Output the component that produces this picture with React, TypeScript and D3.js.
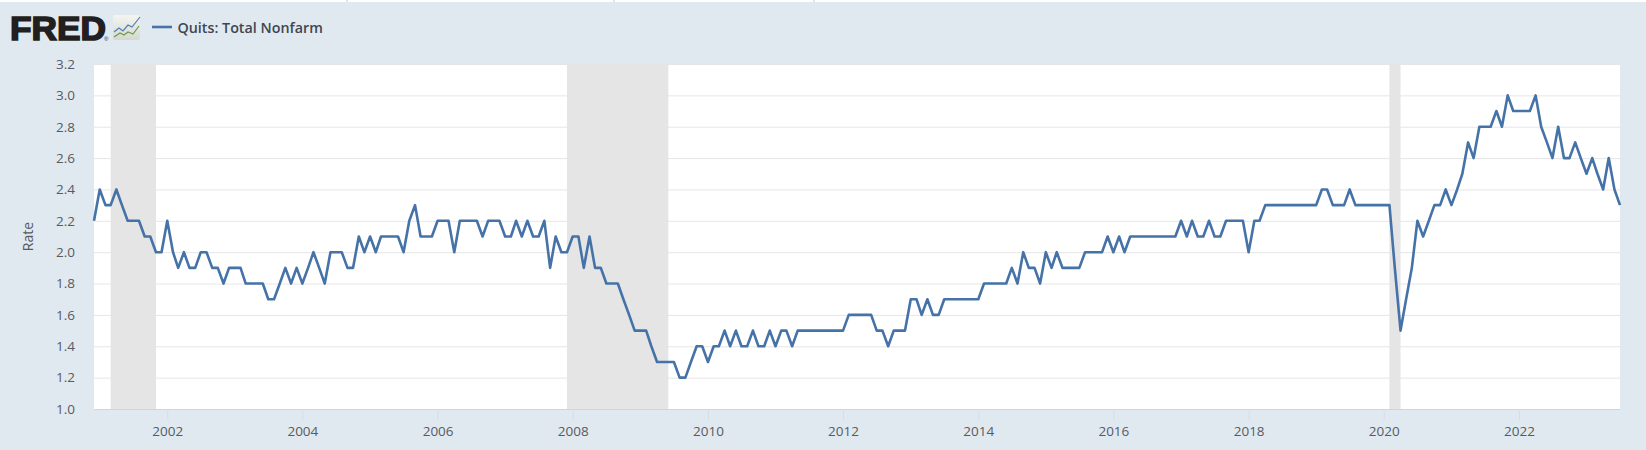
import React, { useEffect, useRef } from 'react';
import * as d3 from 'd3';

const WIDTH = 1646;
const HEIGHT = 450;

const seriesName = 'Quits: Total Nonfarm';
const yAxisTitle = 'Rate';
const startMonth = new Date(Date.UTC(2000, 11, 1));

// monthly quits rate, Dec 2000 onward
const quits2000 = [2.2];
const quits2001 = [2.4, 2.3, 2.3, 2.4, 2.3, 2.2, 2.2, 2.2, 2.1, 2.1, 2.0, 2.0];
const quits2002 = [2.2, 2.0, 1.9, 2.0, 1.9, 1.9, 2.0, 2.0, 1.9, 1.9, 1.8, 1.9];
const quits2003 = [1.9, 1.9, 1.8, 1.8, 1.8, 1.8, 1.7, 1.7, 1.8, 1.9, 1.8, 1.9];
const quits2004 = [1.8, 1.9, 2.0, 1.9, 1.8, 2.0, 2.0, 2.0, 1.9, 1.9, 2.1, 2.0];
const quits2005 = [2.1, 2.0, 2.1, 2.1, 2.1, 2.1, 2.0, 2.2, 2.3, 2.1, 2.1, 2.1];
const quits2006 = [2.2, 2.2, 2.2, 2.0, 2.2, 2.2, 2.2, 2.2, 2.1, 2.2, 2.2, 2.2];
const quits2007 = [2.1, 2.1, 2.2, 2.1, 2.2, 2.1, 2.1, 2.2, 1.9, 2.1, 2.0, 2.0];
const quits2008 = [2.1, 2.1, 1.9, 2.1, 1.9, 1.9, 1.8, 1.8, 1.8, 1.7, 1.6, 1.5];
const quits2009 = [1.5, 1.5, 1.4, 1.3, 1.3, 1.3, 1.3, 1.2, 1.2, 1.3, 1.4, 1.4];
const quits2010 = [1.3, 1.4, 1.4, 1.5, 1.4, 1.5, 1.4, 1.4, 1.5, 1.4, 1.4, 1.5];
const quits2011 = [1.4, 1.5, 1.5, 1.4, 1.5, 1.5, 1.5, 1.5, 1.5, 1.5, 1.5, 1.5];
const quits2012 = [1.5, 1.6, 1.6, 1.6, 1.6, 1.6, 1.5, 1.5, 1.4, 1.5, 1.5, 1.5];
const quits2013 = [1.7, 1.7, 1.6, 1.7, 1.6, 1.6, 1.7, 1.7, 1.7, 1.7, 1.7, 1.7];
const quits2014 = [1.7, 1.8, 1.8, 1.8, 1.8, 1.8, 1.9, 1.8, 2.0, 1.9, 1.9, 1.8];
const quits2015 = [2.0, 1.9, 2.0, 1.9, 1.9, 1.9, 1.9, 2.0, 2.0, 2.0, 2.0, 2.1];
const quits2016 = [2.0, 2.1, 2.0, 2.1, 2.1, 2.1, 2.1, 2.1, 2.1, 2.1, 2.1, 2.1];
const quits2017 = [2.2, 2.1, 2.2, 2.1, 2.1, 2.2, 2.1, 2.1, 2.2, 2.2, 2.2, 2.2];
const quits2018 = [2.0, 2.2, 2.2, 2.3, 2.3, 2.3, 2.3, 2.3, 2.3, 2.3, 2.3, 2.3];
const quits2019 = [2.3, 2.4, 2.4, 2.3, 2.3, 2.3, 2.4, 2.3, 2.3, 2.3, 2.3, 2.3];
const quits2020 = [2.3, 2.3, 1.9, 1.5, 1.7, 1.9, 2.2, 2.1, 2.2, 2.3, 2.3, 2.4];
const quits2021 = [2.3, 2.4, 2.5, 2.7, 2.6, 2.8, 2.8, 2.8, 2.9, 2.8, 3.0, 2.9];
const quits2022 = [2.9, 2.9, 2.9, 3.0, 2.8, 2.7, 2.6, 2.8, 2.6, 2.6, 2.7, 2.6];
const quits2023 = [2.5, 2.6, 2.5, 2.4, 2.6, 2.4, 2.3];

const quitsRate = [
  ...quits2000, ...quits2001, ...quits2002, ...quits2003, ...quits2004, ...quits2005,
  ...quits2006, ...quits2007, ...quits2008, ...quits2009, ...quits2010, ...quits2011,
  ...quits2012, ...quits2013, ...quits2014, ...quits2015, ...quits2016, ...quits2017,
  ...quits2018, ...quits2019, ...quits2020, ...quits2021, ...quits2022, ...quits2023,
];

const recessions: [Date, Date][] = [
  [new Date(Date.UTC(2001, 2, 1)), new Date(Date.UTC(2001, 10, 1))],
  [new Date(Date.UTC(2007, 11, 1)), new Date(Date.UTC(2009, 5, 1))],
  [new Date(Date.UTC(2020, 1, 1)), new Date(Date.UTC(2020, 3, 1))],
];

const yTicks = [1.0, 1.2, 1.4, 1.6, 1.8, 2.0, 2.2, 2.4, 2.6, 2.8, 3.0, 3.2];
const xTickYears = [2002, 2004, 2006, 2008, 2010, 2012, 2014, 2016, 2018, 2020, 2022];

const margin = { top: 64, right: 26, bottom: 41, left: 94 };
const font = "'Open Sans', sans-serif";
const textColor = '#565b62';

const App: React.FC = () => {
  const svgRef = useRef<SVGSVGElement>(null);

  useEffect(() => {
    if (!svgRef.current) return;
    const svg = d3.select(svgRef.current);
    svg.selectAll('*').remove();

    const months = quitsRate.map((_, i) => d3.utcMonth.offset(startMonth, i));
    const x = d3.scaleUtc()
      .domain([months[0], months[months.length - 1]])
      .range([margin.left, WIDTH - margin.right]);
    const y = d3.scaleLinear()
      .domain([1.0, 3.2])
      .range([HEIGHT - margin.bottom, margin.top]);

    svg.append('rect').attr('width', WIDTH).attr('height', HEIGHT).attr('fill', '#e1e9f0');
    svg.append('rect').attr('width', WIDTH).attr('height', 2).attr('fill', '#ffffff');

    // bits of the page header that show above the chart
    svg.append('g')
      .selectAll('line')
      .data([347, 614, 814])
      .join('line')
      .attr('x1', d => d).attr('x2', d => d)
      .attr('y1', 0).attr('y2', 2)
      .attr('stroke', '#c9c9c9');

    // plot background
    svg.append('rect')
      .attr('x', margin.left)
      .attr('y', margin.top)
      .attr('width', WIDTH - margin.left - margin.right)
      .attr('height', HEIGHT - margin.top - margin.bottom)
      .attr('fill', '#ffffff');

    // y axis with grid
    const yAxis = svg.append('g')
      .attr('transform', `translate(${margin.left},0)`)
      .call(d3.axisLeft(y)
        .tickValues(yTicks)
        .tickFormat(d3.format('.1f'))
        .tickSize(-(WIDTH - margin.left - margin.right))
        .tickPadding(19));
    yAxis.select('.domain').remove();
    yAxis.selectAll('line').attr('stroke', '#e6e6e6').attr('stroke-width', 1);
    yAxis.selectAll('text')
      .attr('fill', textColor)
      .style('font-family', font)
      .style('font-size', '13.5px');

    // recession bands sit over the grid
    svg.append('g')
      .selectAll('rect')
      .data(recessions)
      .join('rect')
      .attr('x', d => x(d[0]))
      .attr('y', margin.top)
      .attr('width', d => x(d[1]) - x(d[0]))
      .attr('height', HEIGHT - margin.top - margin.bottom)
      .attr('fill', '#e5e5e5');

    // x axis
    const xAxis = svg.append('g')
      .attr('transform', `translate(0,${HEIGHT - margin.bottom})`)
      .call(d3.axisBottom(x)
        .tickValues(xTickYears.map(yr => new Date(Date.UTC(yr, 0, 1))))
        .tickFormat(d3.utcFormat('%Y') as any)
        .tickSize(11)
        .tickSizeOuter(0)
        .tickPadding(6));
    xAxis.select('.domain').attr('stroke', '#c8d6e5').attr('stroke-width', 1);
    xAxis.selectAll('line').attr('stroke', '#d3deea');
    xAxis.selectAll('text')
      .attr('fill', textColor)
      .style('font-family', font)
      .style('font-size', '13.5px');

    // series
    const line = d3.line<number>()
      .x((_, i) => x(months[i]))
      .y(d => y(d));
    svg.append('path')
      .datum(quitsRate)
      .attr('d', line)
      .attr('fill', 'none')
      .attr('stroke', '#4572a7')
      .attr('stroke-width', 2.6)
      .attr('stroke-linejoin', 'round');

    // y axis title
    svg.append('text')
      .attr('transform', `translate(33,${(margin.top + HEIGHT - margin.bottom) / 2}) rotate(-90)`)
      .attr('text-anchor', 'middle')
      .attr('fill', textColor)
      .style('font-family', font)
      .style('font-size', '14px')
      .text(yAxisTitle);

    // logo
    svg.append('text')
      .attr('x', 10)
      .attr('y', 40)
      .attr('fill', '#231f20')
      .attr('stroke', '#231f20')
      .attr('stroke-width', 1.6)
      .attr('textLength', 96)
      .attr('lengthAdjust', 'spacingAndGlyphs')
      .style('font-family', "'Liberation Sans', Arial, sans-serif")
      .style('font-weight', 700)
      .style('font-size', '34px')
      .text('FRED');
    svg.append('text')
      .attr('x', 104)
      .attr('y', 41)
      .attr('fill', '#231f20')
      .style('font-family', "'Liberation Sans', Arial, sans-serif")
      .style('font-size', '6px')
      .text('®');

    const grad = svg.append('defs').append('linearGradient')
      .attr('id', 'logo-bg')
      .attr('x1', 0).attr('y1', 0).attr('x2', 0).attr('y2', 1);
    grad.append('stop').attr('offset', '0%').attr('stop-color', '#f4f5f2');
    grad.append('stop').attr('offset', '100%').attr('stop-color', '#d4d9cf');

    const logo = svg.append('g').attr('transform', 'translate(113,15)');
    logo.append('rect').attr('width', 27).attr('height', 25).attr('rx', 2).attr('fill', 'url(#logo-bg)');
    logo.append('path')
      .attr('d', 'M1 17 L6 13 L10 16 L15 10 L19 12 L27 2')
      .attr('fill', 'none').attr('stroke', '#4f7fb5').attr('stroke-width', 1.2);
    logo.append('path')
      .attr('d', 'M1 22 L7 18 L11 20 L15 17 L20 19 L26 11')
      .attr('fill', 'none').attr('stroke', '#6f9a4c').attr('stroke-width', 1.2);

    // legend
    svg.append('line')
      .attr('x1', 152).attr('x2', 172)
      .attr('y1', 27).attr('y2', 27)
      .attr('stroke', '#4572a7')
      .attr('stroke-width', 2.6);
    svg.append('text')
      .attr('x', 177.5)
      .attr('y', 32.5)
      .attr('fill', '#3f4650')
      .style('font-family', font)
      .style('font-size', '14.3px')
      .style('font-weight', 600)
      .text(seriesName);
  }, []);

  return (
    <svg
      ref={svgRef}
      width={WIDTH}
      height={HEIGHT}
      style={{ position: 'fixed', left: 0, top: 0, display: 'block' }}
    />
  );
};

export default App;
